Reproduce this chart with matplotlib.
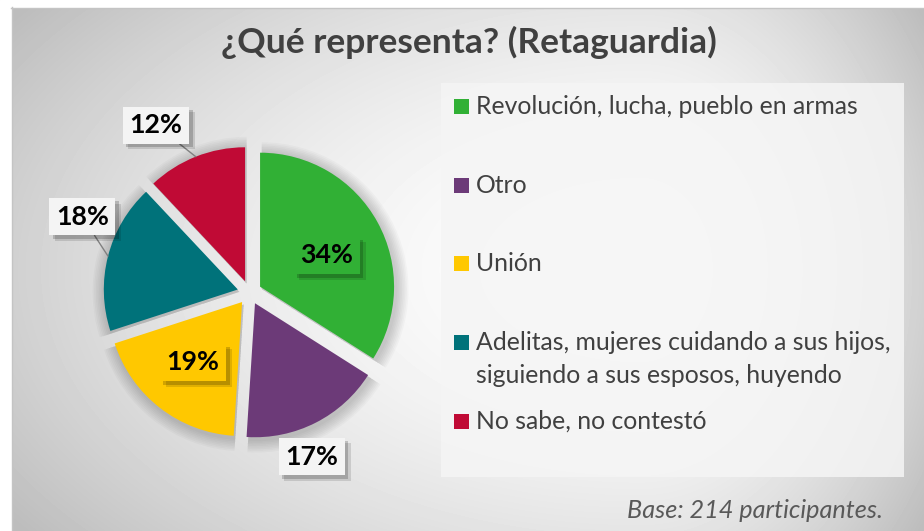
import numpy as np
import matplotlib
matplotlib.use('Agg')
import matplotlib.pyplot as plt
from matplotlib.patches import Rectangle
from matplotlib.text import Text
import matplotlib.patheffects as pe

# ---------------- data ----------------
categories = ["Revolución, lucha, pueblo en armas",
              "Otro",
              "Unión",
              "Adelitas, mujeres cuidando a sus hijos,\nsiguiendo a sus esposos, huyendo",
              "No sabe, no contestó"]
values = [34, 17, 19, 18, 12]
colors = ["#31B035", "#6C3A78", "#FFC800", "#00727A", "#C00A35"]
title = "¿Qué representa? (Retaguardia)"
note = "Base: 214 participantes."

# ---------------- layout ----------------
W, H = 924, 531
FONT = ['Lato', 'DejaVu Sans']
fig = plt.figure(figsize=(W / 100, H / 100), dpi=100)
renderer = fig.canvas.get_renderer()


def fit(t, target_w):
    bb = Text.get_window_extent(t, renderer)
    t.set_fontsize(t.get_fontsize() * target_w / bb.width)
    return t.get_fontsize()


# background (pixel coordinates, y downward)
bg = fig.add_axes([0, 0, 1, 1])
bg.set_axis_off()
yy, xx = np.mgrid[0:H, 0:W] + 0.5
cx0, cy0 = 640, 270
rx = np.where(xx < cx0, 660.0, 300.0)
rr = np.sqrt(((xx - cx0) / rx) ** 2 + ((yy - cy0) / 380.0) ** 2)
shade = np.clip(1 - 0.2 * rr ** 1.8, 0.74, 1)
bg.imshow(shade, cmap='gray', vmin=0, vmax=1, extent=(0, W, H, 0),
          interpolation='bilinear', aspect='auto')
bg.set_xlim(0, W)
bg.set_ylim(H, 0)
bg.add_patch(Rectangle((0, 0), W, 7, color='white', zorder=2))
bg.add_patch(Rectangle((0, 0), 11, H, color='white', zorder=2))
bg.plot([11, W], [7.5, 7.5], color='#c4c4c4', lw=1, zorder=3)
bg.plot([11.5, 11.5], [7, H], color='#c4c4c4', lw=1, zorder=3)

# title
tt = bg.text(468.5, 53, title, ha='center', va='baseline', fontsize=20,
             fontweight='bold', color='#404040', family=FONT, zorder=4)
fit(tt, 495)

# note
nt = bg.text(883, 518, note, ha='right', va='baseline', fontsize=14,
             style='italic', color='#595959', family=FONT, zorder=4)
fit(nt, 257)

# legend
bg.add_patch(Rectangle((441, 83), 463, 394, facecolor='#f5f5f5', alpha=0.85,
                       edgecolor='none', zorder=3))
baselines = [114, 192.7, 271, 350, 428.7]
line_gap = 33
leg_fs = None
for cat, col, b in zip(categories, colors, baselines):
    bg.add_patch(Rectangle((454, b - 15), 15, 15, facecolor=col,
                           edgecolor='none', zorder=4))
    for j, line in enumerate(cat.split('\n')):
        t = bg.text(475.7, b + j * line_gap, line, ha='left', va='baseline',
                    fontsize=leg_fs or 14, color='#404040', family=FONT,
                    zorder=4)
        if leg_fs is None:
            leg_fs = fit(t, 383)

# pie axes: radius 1 == R pixels
R = 134.0
cxp, cyp = 249.5, 292.5
L = 1.6
S = 2 * L * R
pax = fig.add_axes([(cxp - S / 2) / W, 1 - (cyp + S / 2) / H, S / W, S / H])
pax.set_facecolor('none')
explode = [0.09] * len(values)

# soft shadow halo
for k in range(1, 9):
    pax.pie(values, explode=explode, radius=1 + 0.012 * k, center=(0.012, -0.018),
            startangle=90, counterclock=False, colors=['#000000'] * len(values),
            wedgeprops=dict(alpha=0.022, linewidth=0))
wedges, _ = pax.pie(values, explode=explode, colors=colors, startangle=90,
                    counterclock=False, wedgeprops=dict(linewidth=0))
pax.set_xlim(-L, L)
pax.set_ylim(-L, L)
pax.set_axis_off()

# data labels
lab_dist = [0.64, 1.31, 0.67, 1.37, 1.43]
lab_dtheta = [-3.2, -6.2, -1.1, -10.0, 7.6]
inside = [True, False, True, False, False]
leader = [False, False, False, True, True]
texts = []
for i, (w, v) in enumerate(zip(wedges, values)):
    thm = 0.5 * (w.theta1 + w.theta2)
    ang = np.deg2rad(thm + lab_dtheta[i])
    pos = (lab_dist[i] * np.cos(ang), lab_dist[i] * np.sin(ang))
    fc = colors[i] if inside[i] else '#f4f4f4'
    bbox = dict(boxstyle='square,pad=0.25', fc=fc, ec='none')
    if leader[i]:
        r_arc = 1 + explode[i]
        xy = (r_arc * np.cos(np.deg2rad(thm)), r_arc * np.sin(np.deg2rad(thm)))
        t = pax.annotate(f"{v}%", xy=xy, xytext=pos, ha='center', va='center',
                         fontsize=20, fontweight='bold', color='black',
                         family=FONT, bbox=bbox, zorder=5,
                         arrowprops=dict(arrowstyle='-', color='#808080',
                                         lw=1, shrinkA=0, shrinkB=0))
    else:
        t = pax.text(pos[0], pos[1], f"{v}%", ha='center', va='center',
                     fontsize=20, fontweight='bold', color='black',
                     family=FONT, bbox=bbox, zorder=5)
    t.get_bbox_patch().set_path_effects([
        pe.SimplePatchShadow(offset=(4, -4), shadow_rgbFace='black', alpha=0.12),
        pe.SimplePatchShadow(offset=(2.5, -2.5), shadow_rgbFace='black', alpha=0.18),
        pe.Normal()])
    texts.append(t)

bb = Text.get_window_extent(texts[1], renderer)
scale = 53.0 / bb.width
for t in texts:
    t.set_fontsize(t.get_fontsize() * scale)

fig.savefig('out.png', dpi=100)
